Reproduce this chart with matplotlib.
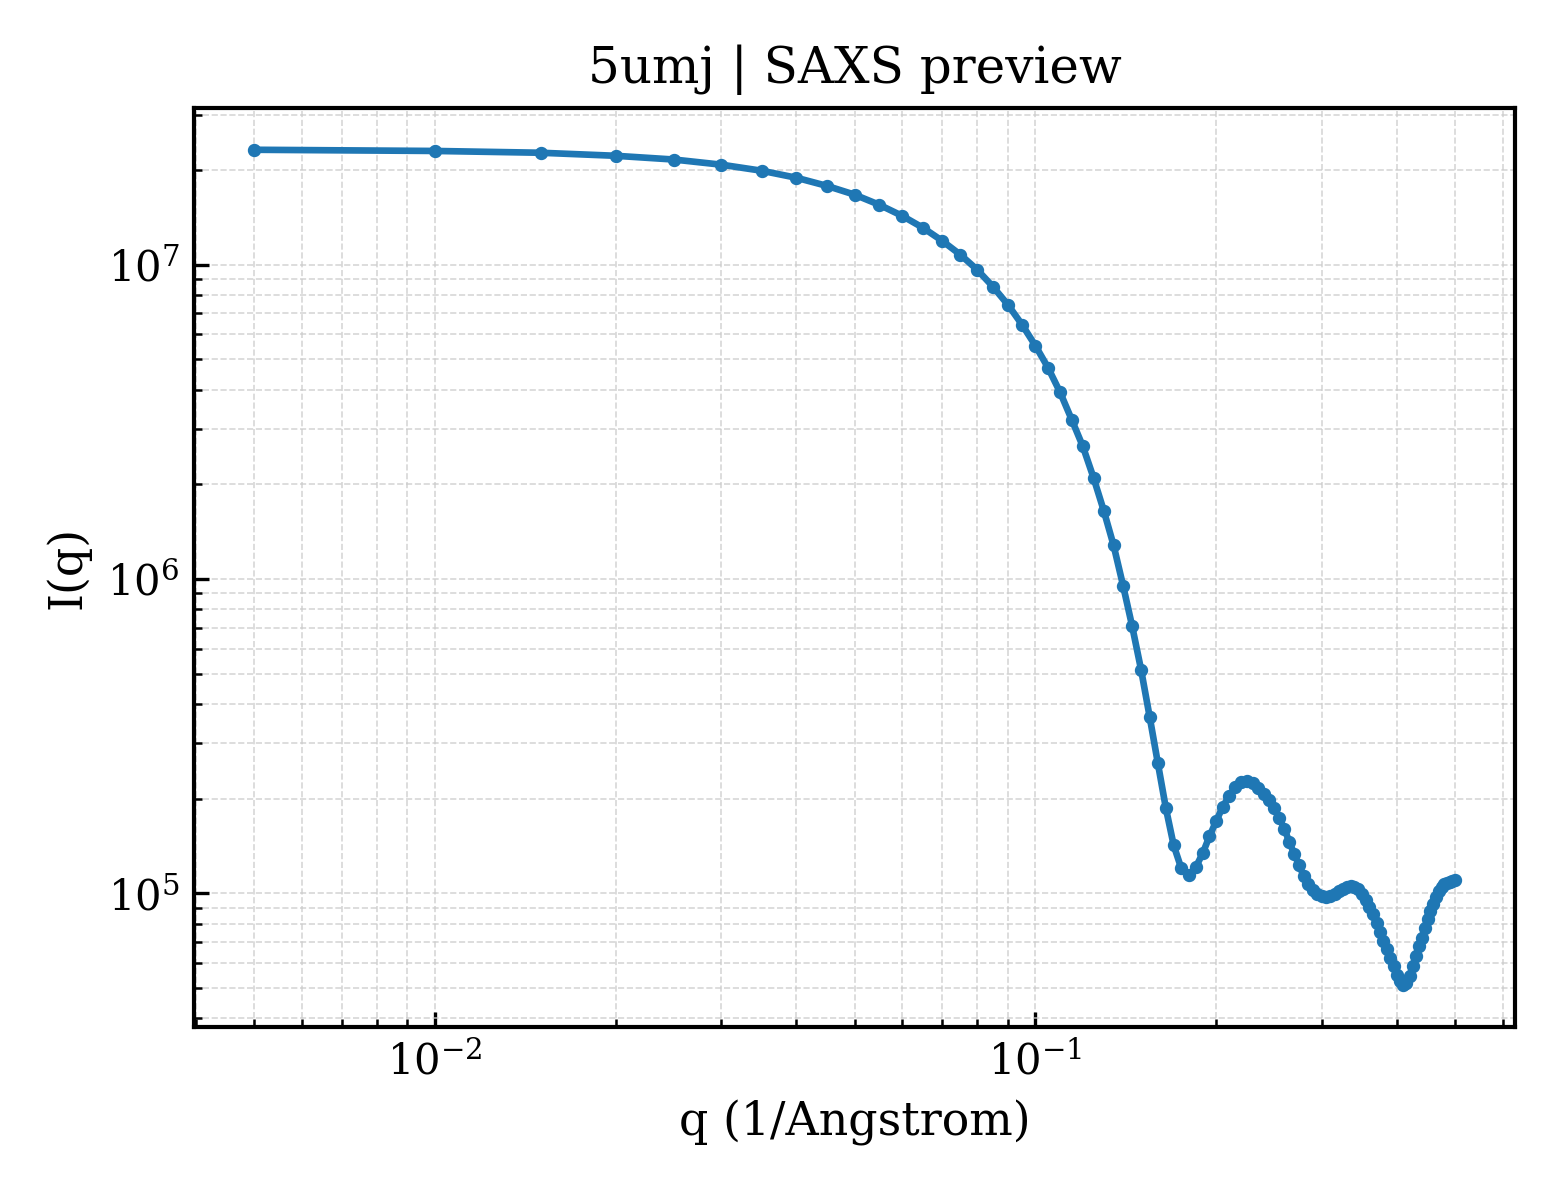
import numpy as np
import matplotlib
matplotlib.use("Agg")
import matplotlib.pyplot as plt

q = np.round(np.arange(1, 101) * 0.005, 3)

intensity = [
    2.32e7, 2.30e7, 2.27e7, 2.22e7, 2.16e7, 2.08e7, 1.99e7, 1.89e7, 1.78e7, 1.67e7,
    1.55e7, 1.43e7, 1.31e7, 1.19e7, 1.076e7, 9.64e6, 8.51e6, 7.46e6, 6.45e6, 5.53e6,
    4.70e6, 3.92e6, 3.21e6, 2.64e6, 2.10e6, 1.65e6, 1.28e6, 9.53e5, 7.06e5, 5.15e5,
    3.65e5, 2.59e5, 1.863e5, 1.421e5, 1.201e5, 1.141e5, 1.210e5, 1.340e5, 1.518e5, 1.694e5,
    1.877e5, 2.034e5, 2.173e5, 2.254e5, 2.270e5, 2.237e5, 2.157e5, 2.064e5, 1.975e5, 1.863e5,
    1.732e5, 1.598e5, 1.453e5, 1.331e5, 1.228e5, 1.133e5, 1.068e5, 1.022e5, 9.93e4, 9.78e4,
    9.75e4, 9.78e4, 9.93e4, 1.015e5, 1.030e5, 1.045e5, 1.053e5, 1.049e5, 1.030e5, 9.93e4,
    9.50e4, 9.03e4, 8.58e4, 8.03e4, 7.51e4, 7.04e4, 6.64e4, 6.21e4, 5.86e4, 5.49e4,
    5.25e4, 5.10e4, 5.17e4, 5.45e4, 5.86e4, 6.30e4, 6.78e4, 7.19e4, 7.74e4, 8.27e4,
    8.76e4, 9.23e4, 9.71e4, 1.015e5, 1.045e5, 1.068e5, 1.080e5, 1.084e5, 1.092e5, 1.100e5,
]

plt.rcParams['font.family'] = ['DejaVu Serif']
plt.rcParams['mathtext.fontset'] = 'dejavuserif'

fig = plt.figure(figsize=(5.2, 4.0), dpi=300)
ax = fig.add_axes([0.1244, 0.1442, 0.8468, 0.7658])

ax.plot(q, intensity, color='#1f77b4', lw=1.6, marker='o', ms=2.2)
ax.set_xscale('log')
ax.set_yscale('log')

ax.set_xlabel('q (1/Angstrom)', fontsize=11)
ax.set_ylabel('I(q)', fontsize=11)
ax.set_title('5umj | SAXS preview', fontsize=12)

ax.tick_params(which='both', direction='in', labelsize=10)
ax.tick_params(which='major', length=3.5, width=0.8)
ax.tick_params(which='minor', length=2, width=0.6)
for s in ax.spines.values():
    s.set_linewidth(1.0)

ax.grid(True, which='both', ls='--', lw=0.4, color='#cccccc', alpha=0.8)

fig.savefig('out.png', dpi=300)
